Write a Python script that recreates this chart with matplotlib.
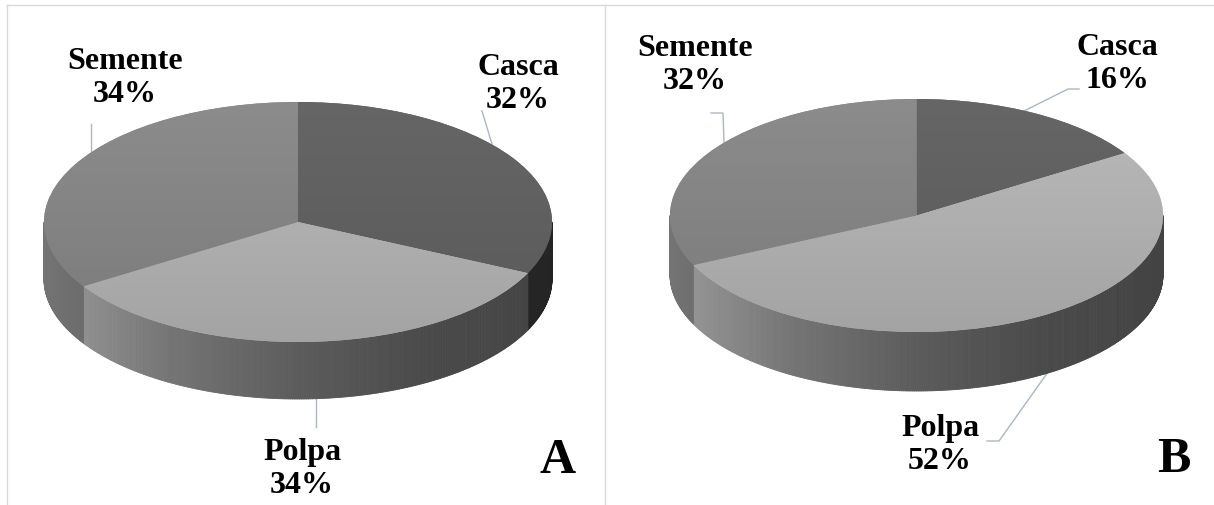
import numpy as np
import matplotlib.pyplot as plt
from matplotlib.collections import PolyCollection

W, H = 1214, 506

categories = ["Casca", "Polpa", "Semente"]
values_a = [32, 34, 34]
values_b = [16, 52, 32]
panel_letters = ["A", "B"]

# grey level of each slice top (0-1)
top_grey = [0x60 / 255, 0xb0 / 255, 0x84 / 255]

plt.rcParams['font.family'] = ['Liberation Serif', 'DejaVu Serif']

fig = plt.figure(figsize=(W / 100, H / 100), dpi=100)
fig.patch.set_facecolor('white')

# background axes in pixel units for frames, leader lines and labels
bg = fig.add_axes([0, 0, 1, 1])
bg.set_xlim(0, W)
bg.set_ylim(H, 0)
bg.axis('off')

frame_col = '#d9d9d9'
bg.plot([7, 7], [6, H], color=frame_col, lw=1)
bg.plot([605, 605], [6, H], color=frame_col, lw=1)
bg.plot([7, W], [6, 6], color=frame_col, lw=1)


def side_factor(x):
    return np.interp(x, [-1, -0.5, 0, 0.5, 1], [0.88, 0.66, 0.52, 0.42, 0.38])


def top_factor(y):
    return np.interp(y, [-1, 1], [0.93, 1.06])


def draw_pie(values, cx, cy, rx, ry, depth_px, pad=4):
    d = depth_px / ry
    ax = fig.add_axes([(cx - rx - pad) / W,
                       1 - (cy + ry + depth_px + pad) / H,
                       (2 * rx + 2 * pad) / W,
                       (2 * ry + depth_px + 2 * pad) / H])
    cols = [(g, g, g) for g in top_grey]
    wedges, _ = ax.pie(values, startangle=90, counterclock=False,
                       radius=1, colors=cols,
                       wedgeprops=dict(linewidth=0, zorder=2))
    ax.set_aspect('auto')
    ax.set_xlim(-1 - pad / rx, 1 + pad / rx)
    ax.set_ylim(-1 - (depth_px + pad) / ry, 1 + pad / ry)
    ax.axis('off')

    # side walls of the front half
    for w, g in zip(wedges, top_grey):
        t1, t2 = w.theta1, w.theta2
        for k in (-1, 0, 1):
            a = max(t1, -180 + 360 * k)
            b = min(t2, 0 + 360 * k)
            if b <= a:
                continue
            ts = np.radians(np.linspace(a, b, max(int((b - a) * 2), 2)))
            polys, fcs = [], []
            for i in range(len(ts) - 1):
                x0, x1 = np.cos(ts[i]), np.cos(ts[i + 1])
                y0, y1 = np.sin(ts[i]), np.sin(ts[i + 1])
                polys.append([(x0, y0), (x1, y1), (x1, y1 - d), (x0, y0 - d)])
                f = side_factor((x0 + x1) / 2) * g
                fcs.append((f, f, f))
            pc = PolyCollection(polys, facecolors=fcs, edgecolors=fcs,
                                linewidths=0.6, zorder=1)
            ax.add_collection(pc)

    # soft vertical shading on the tops
    ys = np.linspace(1, -1, 200)
    for w, g in zip(wedges, top_grey):
        v = np.clip(top_factor(ys) * g, 0, 1)
        img = np.repeat(v[:, None], 2, axis=1)
        img = np.dstack([img, img, img])
        im = ax.imshow(img, extent=(-1, 1, -1, 1), aspect='auto',
                       interpolation='bilinear', zorder=3)
        im.set_clip_path(w)
    return ax


draw_pie(values_a, 298, 223, 254, 120, 57)
draw_pie(values_b, 916.5, 216.5, 246.5, 116.5, 59)

lead_col = '#aab6c8'
leaders = [
    [(91, 125), (91, 152)],
    [(482, 112), (492, 145)],
    [(316, 400), (316, 428)],
    [(711, 114), (723, 114), (724, 143)],
    [(1079, 90), (1068, 90), (1024, 112)],
    [(987, 442), (999, 442), (1048, 373)],
]
for pts in leaders:
    xs, ys = zip(*pts)
    bg.plot(xs, ys, color=lead_col, lw=1)

# label centres (pixels) for Casca, Polpa, Semente
label_pos_a = [(518, 84), (302, 469), (125, 78)]
label_pos_b = [(1117, 64), (940, 445), (695, 65)]

for vals, pos in ((values_a, label_pos_a), (values_b, label_pos_b)):
    for name, v, (x, y) in zip(categories, vals, pos):
        bg.text(x, y, f"{name}\n{v}%", ha='center', va='center',
                fontsize=23, fontweight='bold', linespacing=1.22,
                color='black')

bg.text(558, 461, panel_letters[0], ha='center', va='center',
        fontsize=36, fontweight='bold', color='black')
bg.text(1174, 460, panel_letters[1], ha='center', va='center',
        fontsize=36, fontweight='bold', color='black')

fig.savefig('out.png', dpi=100)
